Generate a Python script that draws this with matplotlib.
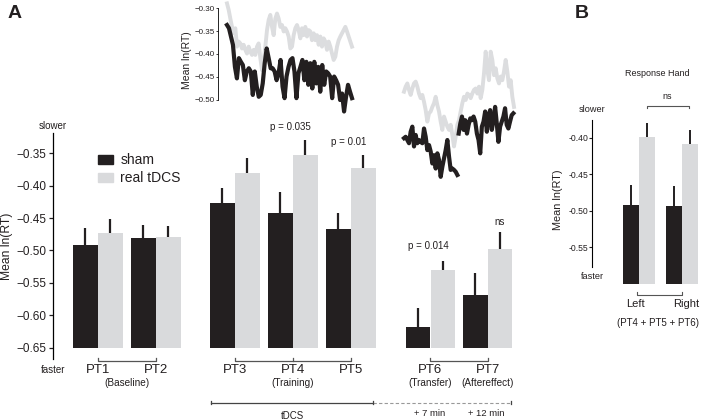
import numpy as np
import matplotlib

matplotlib.use("Agg")
import matplotlib.pyplot as plt
from matplotlib.patches import Patch

plt.rcParams["font.family"] = ["Liberation Sans", "DejaVu Sans"]

SHAM = "#231f20"
REAL = "#d9dadc"
LINE_GREY = "#dcdddf"
TXT = "#231f20"

# --- Panel A: mean ln(RT) per practice test
periods = ["PT1", "PT2", "PT3", "PT4", "PT5", "PT6", "PT7"]
sham_mean = [-0.491, -0.481, -0.426, -0.442, -0.467, -0.618, -0.569]
sham_se = [0.026, 0.021, 0.023, 0.032, 0.025, 0.029, 0.035]
real_mean = [-0.4735, -0.479, -0.380, -0.353, -0.373, -0.530, -0.498]
real_se = [0.0225, 0.017, 0.0225, 0.0235, 0.021, 0.0145, 0.027]
group_pos = [0, 1, 2.36, 3.36, 4.36, 5.73, 6.72]
phase_names = ["(Baseline)", "(Training)", "(Transfer)", "(Aftereffect)"]
pvals = {3: "p = 0.035", 4: "p = 0.01", 5: "p = 0.014", 6: "ns"}

# --- inset traces (mean ln(RT) across trial blocks)
train_real = [-0.290, -0.304, -0.323, -0.341, -0.355, -0.344, -0.384, -0.373, -0.377, -0.388,
              -0.380, -0.391, -0.399, -0.384, -0.395, -0.402, -0.391, -0.402, -0.384, -0.377,
              -0.409, -0.435, -0.413, -0.384, -0.348, -0.326, -0.315, -0.341, -0.359, -0.323,
              -0.312, -0.323, -0.341, -0.337, -0.351, -0.344, -0.351, -0.362, -0.388, -0.384,
              -0.359, -0.344, -0.337, -0.348, -0.366, -0.344, -0.359, -0.341, -0.362, -0.348,
              -0.351, -0.370, -0.355, -0.370, -0.359, -0.380, -0.362, -0.384, -0.366, -0.373,
              -0.391, -0.373, -0.384, -0.399, -0.413, -0.406, -0.384, -0.370, -0.362, -0.355,
              -0.348, -0.341, -0.351, -0.362, -0.373, -0.384]
train_sham = [-0.337, -0.344, -0.362, -0.380, -0.428, -0.453, -0.409, -0.417, -0.424, -0.457,
              -0.438, -0.431, -0.438, -0.489, -0.438, -0.471, -0.493, -0.489, -0.464, -0.420,
              -0.388, -0.409, -0.431, -0.431, -0.438, -0.457, -0.442, -0.413, -0.471, -0.496,
              -0.449, -0.428, -0.413, -0.409, -0.438, -0.496, -0.442, -0.428, -0.413, -0.457,
              -0.417, -0.467, -0.420, -0.475, -0.417, -0.464, -0.428, -0.482, -0.424, -0.467,
              -0.438, -0.442, -0.449, -0.496, -0.449, -0.457, -0.467, -0.500, -0.486, -0.525,
              -0.493, -0.467, -0.482, -0.496]
post_real = [-0.482, -0.471, -0.464, -0.478, -0.489, -0.475, -0.464, -0.460, -0.471, -0.486,
             -0.496, -0.489, -0.504, -0.522, -0.547, -0.529, -0.525, -0.515, -0.507, -0.493,
             -0.511, -0.525, -0.547, -0.565, -0.536, -0.547, -0.558, -0.565, -0.554, -0.576,
             -0.601, -0.580, -0.554, -0.544, -0.525, -0.507, -0.493, -0.500, -0.486, -0.489,
             -0.496, -0.486, -0.478, -0.475, -0.486, -0.471, -0.496, -0.478, -0.442, -0.395,
             -0.435, -0.457, -0.395, -0.413, -0.446, -0.431, -0.453, -0.464, -0.449, -0.457,
             -0.438, -0.413, -0.438, -0.471, -0.457, -0.493, -0.515]
post_sham_a = [-0.583, -0.580, -0.587, -0.594, -0.569, -0.558, -0.601, -0.576, -0.594, -0.587,
               -0.591, -0.594, -0.562, -0.580, -0.609, -0.598, -0.612, -0.638, -0.620, -0.649,
               -0.616, -0.630, -0.667, -0.645, -0.627, -0.609, -0.587, -0.623, -0.652, -0.649,
               -0.652, -0.656, -0.663]
post_sham_b = [-0.573, -0.551, -0.536, -0.565, -0.544, -0.573, -0.554, -0.540, -0.544, -0.536,
               -0.547, -0.573, -0.587, -0.616, -0.558, -0.547, -0.525, -0.569, -0.536, -0.522,
               -0.565, -0.544, -0.515, -0.551, -0.591, -0.558, -0.547, -0.536, -0.518, -0.554,
               -0.562, -0.547, -0.533, -0.529]

# --- Panel B: response hand (PT4 + PT5 + PT6)
hands = ["Left", "Right"]
hand_sham = [-0.492, -0.4933]
hand_sham_se = [0.027, 0.027]
hand_real = [-0.3995, -0.409]
hand_real_se = [0.0195, 0.019]

W, H = 703, 420
fig = plt.figure(figsize=(W / 100, H / 100), dpi=100)


def box(x0, y0, x1, y1):
    """pixel box (top-left origin) -> figure rect"""
    return [x0 / W, 1 - y1 / H, (x1 - x0) / W, (y1 - y0) / H]


# ================= Panel A bars
ax = fig.add_axes(box(53, 120, 520, 420))
ax.patch.set_alpha(0)
base = -0.65
bw = 0.42
xs = np.array(group_pos)
ax.bar(xs - bw / 2, np.array(sham_mean) - base, bw, bottom=base, color=SHAM)
ax.bar(xs + bw / 2 + 0.01, np.array(real_mean) - base, bw, bottom=base, color=REAL)
ax.errorbar(xs - bw / 2, sham_mean, yerr=[np.zeros(7), sham_se], fmt="none",
            ecolor=SHAM, elinewidth=1.6, capsize=0)
ax.errorbar(xs + bw / 2 + 0.01, real_mean, yerr=[np.zeros(7), real_se], fmt="none",
            ecolor=SHAM, elinewidth=1.6, capsize=0)
ax.set_xlim(-0.77, 7.28)
ax.set_ylim(-0.7616, -0.2986)
for s in ("top", "right", "bottom"):
    ax.spines[s].set_visible(False)
ax.spines["left"].set_bounds(-0.6674, -0.3187)
ax.spines["left"].set_linewidth(0.9)
ax.set_xticks([])
ax.set_yticks([-0.35, -0.40, -0.45, -0.50, -0.55, -0.60, -0.65])
ax.set_yticklabels([f"\u2212{abs(v):.2f}" for v in ax.get_yticks()])
ax.tick_params(axis="y", direction="out", length=3, width=0.9, pad=1.5, labelsize=8.5, colors=TXT)
ax.text(-0.77, -0.3079, "slower", ha="center", va="center", fontsize=7, color=TXT)
ax.text(-0.77, -0.6844, "faster", ha="center", va="center", fontsize=7, color=TXT)
fig.text(6.7 / W, 1 - 246 / H, "Mean ln(RT)", rotation=90, ha="center", va="center",
         fontsize=8.7, color=TXT)

for i, name in enumerate(periods):
    ax.text(xs[i], -0.6844, name, ha="center", va="center", fontsize=9.5, color=TXT)
for (i, j), lab in zip([(0, 1), (2, 4), (5, 6)], phase_names[:3]):
    ax.plot([xs[i], xs[i], xs[j], xs[j]], [-0.6658, -0.6707, -0.6707, -0.6658],
            color="#555555", lw=0.9, clip_on=False)
    if j - i == 2:
        ax.plot([xs[i + 1], xs[i + 1]], [-0.6658, -0.6707], color="#555555", lw=0.9)
mid = [(xs[0] + xs[1]) / 2, xs[3], xs[5], xs[6]]
for xm, lab in zip(mid, phase_names):
    ax.text(xm, -0.7045, lab, ha="center", va="center", fontsize=7.2, color=TXT)

# tDCS timeline
ax.plot([1.953, 4.747], [-0.7353, -0.7353], color="#444444", lw=0.9)
ax.plot([4.747, 7.126], [-0.7353, -0.7353], color="#999999", lw=0.8, ls=(0, (3, 2)))
for xe in (1.953, 4.747, 7.126):
    ax.plot([xe, xe], [-0.7330, -0.7376], color="#444444", lw=0.9)
ax.text(3.35, -0.7560, "tDCS", ha="center", va="center", fontsize=7, color=TXT)
ax.text(5.72, -0.7520, "+ 7 min", ha="center", va="center", fontsize=6.8, color=TXT)
ax.text(6.70, -0.7520, "+ 12 min", ha="center", va="center", fontsize=6.8, color=TXT)

p_offset = {3: 0.020, 4: 0.020, 5: 0.023, 6: 0.015}
for i, lab in pvals.items():
    ytop = real_mean[i] + real_se[i]
    xp = xs[i] - 0.03 if lab != "ns" else xs[i] + bw / 2
    ax.text(xp, ytop + p_offset[i], lab, ha="center", va="center", fontsize=7, color=TXT)

fig.legend(handles=[Patch(color=SHAM, label="sham"), Patch(color=REAL, label="real tDCS")],
           loc="upper left", bbox_to_anchor=(98 / W, 1 - 153 / H), frameon=False,
           fontsize=10, handlelength=1.1, handleheight=0.6, handletextpad=0.5,
           labelspacing=0.3, borderpad=0, borderaxespad=0, labelcolor=TXT)

fig.text(8 / W, 1 - 14 / H, "A", fontsize=14, fontweight="bold", va="center", color=TXT)

# ================= inset traces
ai = fig.add_axes(box(218, 0, 355, 120))
ai.patch.set_alpha(0)
ai.plot(np.linspace(0, 1, len(train_real)), train_real, color=LINE_GREY, lw=2.8,
        solid_joinstyle="round")
ai.plot(np.linspace(0, 1, len(train_sham)), train_sham, color=SHAM, lw=3.0,
        solid_joinstyle="round")
ai.set_xlim(-0.072, 1.024)
ai.set_ylim(-0.5435, -0.2826)
for s in ("top", "right", "bottom"):
    ai.spines[s].set_visible(False)
ai.spines["left"].set_bounds(-0.50, -0.30)
ai.spines["left"].set_linewidth(0.6)
ai.set_xticks([])
ai.set_yticks([-0.30, -0.35, -0.40, -0.45, -0.50])
ai.set_yticklabels([f"\u2212{abs(v):.2f}" for v in ai.get_yticks()])
ai.tick_params(axis="y", direction="out", length=1.5, width=0.6, pad=1, labelsize=5.8, colors=TXT)
ai.set_ylabel("Mean ln(RT)", fontsize=7.5, labelpad=2, color=TXT)

aj = fig.add_axes(box(400, 40, 520, 185))
aj.axis("off")
aj.plot(np.linspace(0, 1, len(post_real)), post_real, color=LINE_GREY, lw=2.8,
        solid_joinstyle="round")
aj.plot(np.linspace(0, 0.485, len(post_sham_a)), post_sham_a, color=SHAM, lw=3.0,
        solid_joinstyle="round")
aj.plot(np.linspace(0.497, 0.994, len(post_sham_b)), post_sham_b, color=SHAM, lw=3.0,
        solid_joinstyle="round")
aj.set_xlim(-0.0364, 1.0545)
aj.set_ylim(-0.6848, -0.3696)

# ================= Panel B
ab = fig.add_axes(box(592.3, 60, 703, 340))
ab.patch.set_alpha(0)
hb = 0.36
hx = np.arange(len(hands))
bb = -0.60
ab.bar(hx - hb / 2, np.array(hand_sham) - bb, hb, bottom=bb, color=SHAM)
ab.bar(hx + hb / 2 + 0.01, np.array(hand_real) - bb, hb, bottom=bb, color=REAL)
ab.errorbar(hx - hb / 2, hand_sham, yerr=[np.zeros(2), hand_sham_se], fmt="none",
            ecolor=SHAM, elinewidth=1.4, capsize=0)
ab.errorbar(hx + hb / 2 + 0.01, hand_real, yerr=[np.zeros(2), hand_real_se], fmt="none",
            ecolor=SHAM, elinewidth=1.4, capsize=0)
ab.set_xlim(-1.081, 1.493)
ab.set_ylim(-0.6764, -0.2939)
for s in ("top", "right", "bottom"):
    ab.spines[s].set_visible(False)
ab.spines["left"].set_bounds(-0.577, -0.3755)
ab.spines["left"].set_linewidth(0.8)
ab.set_xticks([])
ab.set_yticks([-0.40, -0.45, -0.50, -0.55])
ab.set_yticklabels([f"-{abs(v):.2f}" for v in ab.get_yticks()])
ab.tick_params(axis="y", direction="out", length=2, width=0.8, pad=1, labelsize=6.2, colors=TXT)
ab.text(-1.081, -0.3612, "slower", ha="center", va="center", fontsize=6.6, color=TXT)
ab.text(-1.081, -0.589, "faster", ha="center", va="center", fontsize=6.6, color=TXT)
fig.text(558 / W, 1 - 200 / H, "Mean ln(RT)", rotation=90, ha="center", va="center",
         fontsize=7.8, color=TXT)
ab.text(0.42, -0.313, "Response Hand", ha="center", va="center", fontsize=6.5, color=TXT)
ab.plot([0.184, 0.184, 1.174, 1.174], [-0.3594, -0.3563, -0.3563, -0.3594], color="#555555", lw=0.8)
ab.text(0.655, -0.344, "ns", ha="center", va="center", fontsize=6.5, color=TXT)
ab.plot([-0.035, -0.035, 1.0, 1.0], [-0.6108, -0.6149, -0.6149, -0.6108], color="#555555",
        lw=0.8, clip_on=False)
for i, name in enumerate(hands):
    ab.text(hx[i] + (-0.08 if i == 0 else 0.11), -0.6273, name, ha="center", va="center",
            fontsize=8, color=TXT)
ab.text(0.44, -0.6533, "(PT4 + PT5 + PT6)", ha="center", va="center", fontsize=7, color=TXT)
fig.text(575 / W, 1 - 14 / H, "B", fontsize=14, fontweight="bold", va="center", color=TXT)

fig.savefig("out.png", dpi=100)
